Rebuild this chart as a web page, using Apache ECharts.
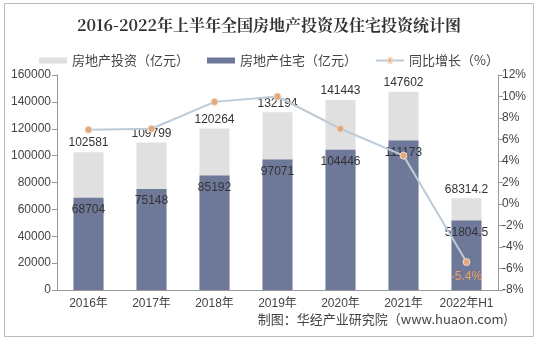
<!DOCTYPE html>
<html><head><meta charset="utf-8">
<script src="https://cdn.jsdelivr.net/npm/echarts@6/dist/echarts.min.js"></script>
<style>html,body{margin:0;padding:0;background:#fff}#c{width:538px;height:341px}</style>
</head><body><div id="c"></div>
<script>
const categories = ['2016年','2017年','2018年','2019年','2020年','2021年','2022年H1'];
const totalInvest = [102581, 109799, 120264, 132194, 141443, 147602, 68314.2];
const residential = [68704, 75148, 85192, 97071, 104446, 111173, 51804.5];
const growth = [6.9, 7.0, 9.5, 10.0, 7.0, 4.5, -5.4];
const leftTicks = [0, 160000, 20000];
const rightTicks = [-8, 12, 2];

const chart = echarts.init(document.getElementById('c'));
const font = '"Liberation Sans", "Noto Sans CJK SC", sans-serif';
chart.setOption({
  animation: false,
  textStyle: {fontFamily: font},
  title: {
    text: '2016-2022年上半年全国房地产投资及住宅投资统计图',
    left: 'center', top: 12,
    textStyle: {fontSize: 16, fontWeight: 'bold', color: '#333', fontFamily: '"Noto Serif CJK SC","Noto Sans CJK SC", serif'}
  },
  legend: {
    top: 49, left: 'center', itemWidth: 28, itemHeight: 6, itemGap: 18,
    textStyle: {fontSize: 13, color: '#444', fontFamily: '"Noto Sans CJK SC", sans-serif'},
    data: [
      {name: '房地产投资（亿元）', icon: 'rect'},
      {name: '房地产住宅（亿元）', icon: 'rect'},
      {name: '同比增长（%）'}
    ]
  },
  graphic: [
    {type: 'rect', shape: {x: 4.5, y: 3.5, width: 529, height: 333}, style: {fill: 'none', stroke: '#bbb', lineWidth: 1}, silent: true},
    {type: 'text', right: 30, top: 313, style: {text: '制图：华经产业研究院（www.huaon.com)', fontSize: 13, fill: '#444', fontFamily: '"Noto Sans CJK SC", sans-serif'}}
  ],
  grid: {left: 57, right: 40, top: 75, bottom: 51, containLabel: false},
  xAxis: {
    type: 'category', data: categories,
    axisLine: {lineStyle: {color: '#999'}},
    axisTick: {lineStyle: {color: '#999'}},
    axisLabel: {color: '#444', fontSize: 12, margin: 8, interval: 0}
  },
  yAxis: [
    {type: 'value', min: leftTicks[0], max: leftTicks[1], interval: leftTicks[2],
     axisLine: {show: true, lineStyle: {color: '#999'}}, axisTick: {show: true, lineStyle: {color: '#999'}},
     splitLine: {show: false}, axisLabel: {color: '#444', fontSize: 12, margin: 6, formatter: v => String(v)}},
    {type: 'value', min: rightTicks[0], max: rightTicks[1], interval: rightTicks[2],
     axisLine: {show: true, lineStyle: {color: '#999'}}, axisTick: {show: true, lineStyle: {color: '#999'}},
     splitLine: {show: false}, axisLabel: {color: '#444', fontSize: 12, margin: 4, formatter: '{value}%'}}
  ],
  series: [
    {name: '房地产投资（亿元）', type: 'bar', data: totalInvest, barWidth: 30, barGap: '-100%',
     itemStyle: {color: '#e0e0e0'},
     label: {show: true, position: 'top', color: '#333', fontSize: 12, distance: 3}},
    {name: '房地产住宅（亿元）', type: 'bar', data: residential, barWidth: 30,
     itemStyle: {color: '#6e7899'},
     label: {show: true, position: 'insideTop', color: '#333', fontSize: 12, distance: 6}},
    {name: '同比增长（%）', type: 'line', yAxisIndex: 1, data: growth,
     symbol: 'circle', symbolSize: 7,
     lineStyle: {color: '#bccbd8', width: 2},
     itemStyle: {color: '#e0aa80', borderColor: '#f3d9c4', borderWidth: 1},
     label: {show: true, position: 'bottom', color: '#f0a060', fontSize: 12,
       formatter: p => p.dataIndex === growth.length - 1 ? p.value + '%' : ''}}
  ]
});
</script></body></html>
